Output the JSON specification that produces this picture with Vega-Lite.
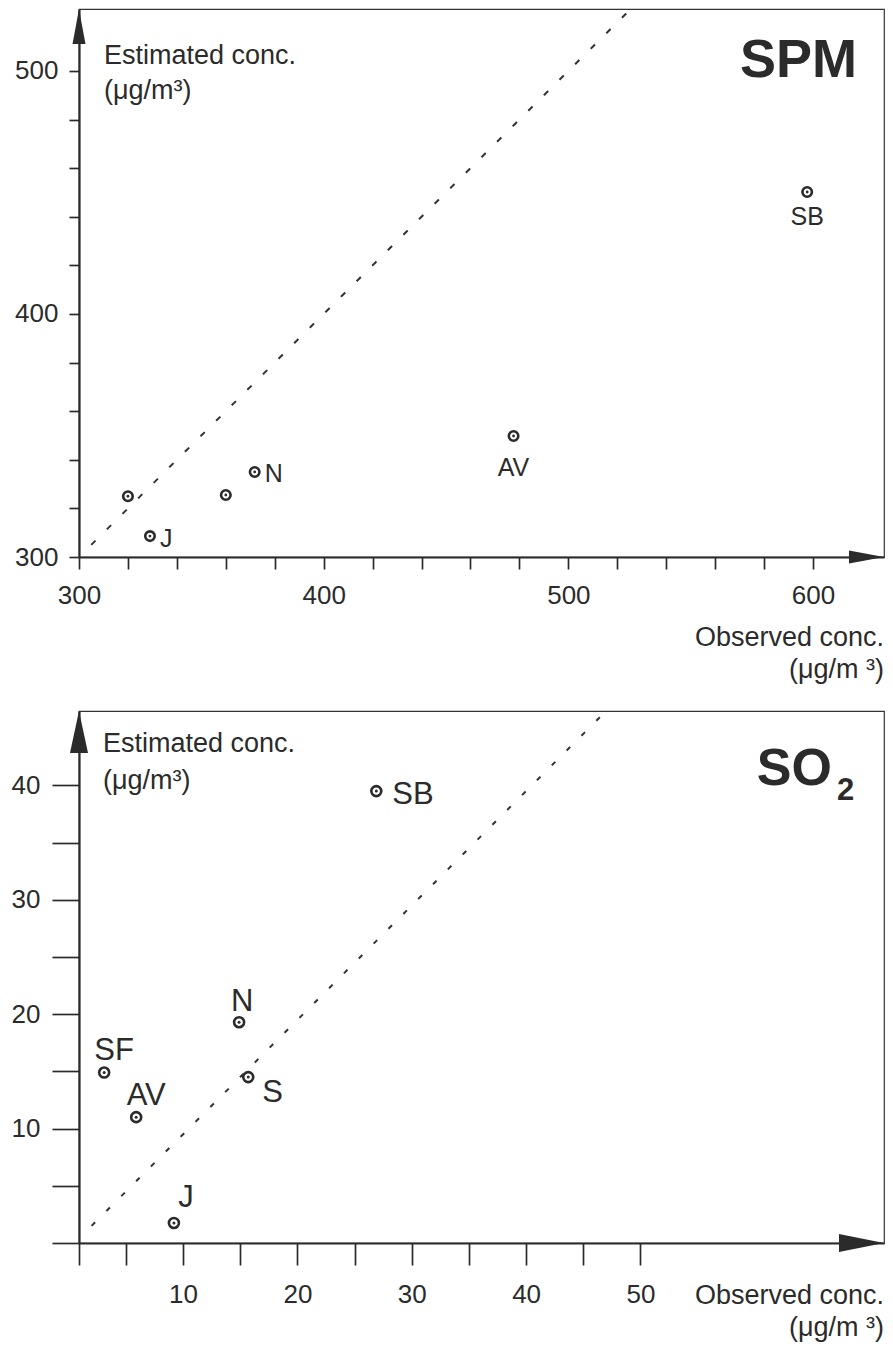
{
  "$schema": "https://vega.github.io/schema/vega-lite/v6.json",
  "background": "white",
  "padding": {"left": 10, "top": 7, "right": 5, "bottom": 5},
  "bounds": "flush",
  "spacing": 154,
  "config": {
    "font": "Liberation Sans",
    "view": {"stroke": "#333333", "strokeWidth": 1.2},
    "axis": {"grid": false, "domainColor": "#2b2b2b", "domainWidth": 2.2, "tickColor": "#2b2b2b", "tickWidth": 1.7, "labelColor": "#2b2b2b", "labelFont": "Liberation Sans"},
    "text": {"color": "#2b2b2b", "font": "Liberation Sans"}
  },
  "datasets": {
    "spm": [
      {"site": "", "observed": 320, "estimated": 325},
      {"site": "J", "observed": 329, "estimated": 308.6},
      {"site": "", "observed": 360, "estimated": 325.5},
      {"site": "N", "observed": 371.8, "estimated": 335},
      {"site": "AV", "observed": 477.6, "estimated": 349.8},
      {"site": "SB", "observed": 597.6, "estimated": 450.2}
    ],
    "so2": [
      {"site": "SB", "observed": 26.9, "estimated": 39.5},
      {"site": "N", "observed": 14.9, "estimated": 19.3},
      {"site": "SF", "observed": 3.1, "estimated": 14.9},
      {"site": "AV", "observed": 5.9, "estimated": 11.0},
      {"site": "S", "observed": 15.7, "estimated": 14.5},
      {"site": "J", "observed": 9.2, "estimated": 1.75}
    ]
  },
  "vconcat": [
    {
      "width": 805,
      "height": 548,
      "data": {"name": "spm"},
      "encoding": {
        "x": {"field": "observed", "type": "quantitative", "scale": {"domain": [300, 629], "nice": false, "zero": false},
          "axis": {"title": null, "values": [300, 320, 340, 360, 380, 400, 420, 440, 460, 480, 500, 520, 540, 560, 580, 600], "labelExpr": "datum.value % 100 === 0 ? datum.label : ''", "tickSize": 12, "labelPadding": 13, "labelFontSize": 26, "labelFlush": false, "labelOverlap": false, "format": "d"}},
        "y": {"field": "estimated", "type": "quantitative", "scale": {"domain": [300, 525.5], "nice": false, "zero": false},
          "axis": {"title": null, "values": [300, 320, 340, 360, 380, 400, 420, 440, 460, 480, 500], "labelExpr": "datum.value % 100 === 0 ? datum.label : ''", "tickSize": 10, "labelPadding": 11, "labelFontSize": 26, "labelFlush": false, "labelOverlap": false, "format": "d"}}
      },
      "layer": [
        {"transform": [{"filter": "datum.site === 'SB'"}], "mark": {"type": "rule", "strokeDash": [6, 16], "strokeWidth": 2, "color": "#333333"},
          "encoding": {"x": {"datum": 305, "type": "quantitative"}, "y": {"datum": 305, "type": "quantitative"}, "x2": {"datum": 525.5}, "y2": {"datum": 525.5}}},
        {"transform": [{"filter": "datum.site === 'SB'"}], "mark": {"type": "point", "shape": "M0,-1L0.37,1L-0.37,1Z", "filled": true, "color": "#2b2b2b", "opacity": 1, "size": 1225, "yOffset": 17.5},
          "encoding": {"x": {"datum": 300, "type": "quantitative"}, "y": {"datum": 525.5, "type": "quantitative"}}},
        {"transform": [{"filter": "datum.site === 'SB'"}], "mark": {"type": "point", "shape": "M1,0L-1,-0.37L-1,0.37Z", "filled": true, "color": "#2b2b2b", "opacity": 1, "size": 1225, "xOffset": -17.5},
          "encoding": {"x": {"datum": 629, "type": "quantitative"}, "y": {"datum": 300, "type": "quantitative"}}},
        {"mark": {"type": "point", "shape": "circle", "filled": true, "fill": "white", "stroke": "#2b2b2b", "strokeWidth": 2.6, "size": 90, "opacity": 1}},
        {"mark": {"type": "point", "shape": "circle", "filled": true, "color": "#2b2b2b", "size": 8, "opacity": 1}},
        {"transform": [{"filter": "datum.site === 'N' || datum.site === 'J'"}],
          "mark": {"type": "text", "align": "left", "baseline": "alphabetic", "dx": 10, "dy": 10.5, "fontSize": 25},
          "encoding": {"text": {"field": "site"}}},
        {"transform": [{"filter": "datum.site === 'AV'"}],
          "mark": {"type": "text", "align": "center", "baseline": "alphabetic", "dy": 40, "fontSize": 25},
          "encoding": {"text": {"field": "site"}}},
        {"transform": [{"filter": "datum.site === 'SB'"}],
          "mark": {"type": "text", "align": "center", "baseline": "alphabetic", "dy": 33, "fontSize": 25},
          "encoding": {"text": {"field": "site"}}},
        {"transform": [{"filter": "datum.site === 'SB'"}], "mark": {"type": "text", "align": "left", "baseline": "alphabetic", "fontSize": 27, "lineHeight": 35},
          "encoding": {"x": {"datum": 310.2, "type": "quantitative"}, "y": {"datum": 502.9, "type": "quantitative"}, "text": {"value": ["Estimated conc.", "(μg/m³)"]}}},
        {"transform": [{"filter": "datum.site === 'SB'"}], "mark": {"type": "text", "align": "right", "baseline": "alphabetic", "fontSize": 27, "lineHeight": 32},
          "encoding": {"x": {"datum": 629, "type": "quantitative"}, "y": {"datum": 263.4, "type": "quantitative"}, "text": {"value": ["Observed conc.", "(μg/m ³)"]}}},
        {"transform": [{"filter": "datum.site === 'SB'"}], "mark": {"type": "text", "align": "right", "baseline": "alphabetic", "fontSize": 54, "fontWeight": "bold"},
          "encoding": {"x": {"datum": 618, "type": "quantitative"}, "y": {"datum": 497.5, "type": "quantitative"}, "text": {"value": "SPM"}}}
      ]
    },
    {
      "width": 805,
      "height": 532,
      "data": {"name": "so2"},
      "encoding": {
        "x": {"field": "observed", "type": "quantitative", "scale": {"domain": [0.9, 71.3], "nice": false, "zero": false},
          "axis": {"title": null, "values": [0.9, 5, 10, 15, 20, 25, 30, 35, 40, 45, 50], "labelExpr": "datum.value % 10 === 0 && datum.value > 0 ? datum.label : ''", "tickSize": 22, "labelPadding": 16, "labelFontSize": 26, "labelFlush": false, "labelOverlap": false}},
        "y": {"field": "estimated", "type": "quantitative", "scale": {"domain": [0, 46.5], "nice": false, "zero": false},
          "axis": {"title": null, "values": [0, 5, 10, 15, 20, 25, 30, 35, 40], "labelExpr": "datum.value % 10 === 0 && datum.value > 0 ? datum.label : ''", "tickSize": 27, "labelPadding": 12, "labelFontSize": 26, "labelFlush": false, "labelOverlap": false}}
      },
      "layer": [
        {"transform": [{"filter": "datum.site === 'SB'"}], "mark": {"type": "rule", "strokeDash": [5, 16], "strokeWidth": 2, "color": "#333333"},
          "encoding": {"x": {"datum": 2.0, "type": "quantitative"}, "y": {"datum": 1.5, "type": "quantitative"}, "x2": {"datum": 47}, "y2": {"datum": 46.5}}},
        {"transform": [{"filter": "datum.site === 'SB'"}], "mark": {"type": "point", "shape": "M0,-1L0.43,1L-0.43,1Z", "filled": true, "color": "#2b2b2b", "opacity": 1, "size": 1764, "yOffset": 21},
          "encoding": {"x": {"datum": 0.9, "type": "quantitative"}, "y": {"datum": 46.5, "type": "quantitative"}}},
        {"transform": [{"filter": "datum.site === 'SB'"}], "mark": {"type": "point", "shape": "M1,0L-1,-0.4L-1,0.4Z", "filled": true, "color": "#2b2b2b", "opacity": 1, "size": 2025, "xOffset": -22.5},
          "encoding": {"x": {"datum": 71.3, "type": "quantitative"}, "y": {"datum": 0, "type": "quantitative"}}},
        {"mark": {"type": "point", "shape": "circle", "filled": true, "fill": "white", "stroke": "#2b2b2b", "strokeWidth": 2.6, "size": 100, "opacity": 1}},
        {"mark": {"type": "point", "shape": "circle", "filled": true, "color": "#2b2b2b", "size": 9, "opacity": 1}},
        {"transform": [{"filter": "datum.site === 'SB'"}],
          "mark": {"type": "text", "align": "left", "baseline": "alphabetic", "dx": 16, "dy": 13, "fontSize": 31},
          "encoding": {"text": {"field": "site"}}},
        {"transform": [{"filter": "datum.site === 'N'"}],
          "mark": {"type": "text", "align": "center", "baseline": "alphabetic", "dx": 3, "dy": -11, "fontSize": 31},
          "encoding": {"text": {"field": "site"}}},
        {"transform": [{"filter": "datum.site === 'SF' || datum.site === 'AV'"}],
          "mark": {"type": "text", "align": "center", "baseline": "alphabetic", "dx": 10, "dy": -12.5, "fontSize": 31},
          "encoding": {"text": {"field": "site"}}},
        {"transform": [{"filter": "datum.site === 'J'"}],
          "mark": {"type": "text", "align": "center", "baseline": "alphabetic", "dx": 12, "dy": -16, "fontSize": 31},
          "encoding": {"text": {"field": "site"}}},
        {"transform": [{"filter": "datum.site === 'S'"}],
          "mark": {"type": "text", "align": "left", "baseline": "alphabetic", "dx": 14, "dy": 25, "fontSize": 31},
          "encoding": {"text": {"field": "site"}}},
        {"transform": [{"filter": "datum.site === 'SB'"}], "mark": {"type": "text", "align": "left", "baseline": "alphabetic", "fontSize": 27, "lineHeight": 37},
          "encoding": {"x": {"datum": 3.0, "type": "quantitative"}, "y": {"datum": 42.96, "type": "quantitative"}, "text": {"value": ["Estimated conc.", "(μg/m³)"]}}},
        {"transform": [{"filter": "datum.site === 'SB'"}], "mark": {"type": "text", "align": "right", "baseline": "alphabetic", "fontSize": 27, "lineHeight": 32},
          "encoding": {"x": {"datum": 71.3, "type": "quantitative"}, "y": {"datum": -5.34, "type": "quantitative"}, "text": {"value": ["Observed conc.", "(μg/m ³)"]}}},
        {"transform": [{"filter": "datum.site === 'SB'"}], "mark": {"type": "text", "align": "right", "baseline": "alphabetic", "fontSize": 52, "fontWeight": "bold"},
          "encoding": {"x": {"datum": 66.75, "type": "quantitative"}, "y": {"datum": 40.0, "type": "quantitative"}, "text": {"value": "SO"}}},
        {"transform": [{"filter": "datum.site === 'SB'"}], "mark": {"type": "text", "align": "left", "baseline": "alphabetic", "fontSize": 31, "fontWeight": "bold"},
          "encoding": {"x": {"datum": 67.2, "type": "quantitative"}, "y": {"datum": 38.7, "type": "quantitative"}, "text": {"value": "2"}}}
      ]
    }
  ]
}
